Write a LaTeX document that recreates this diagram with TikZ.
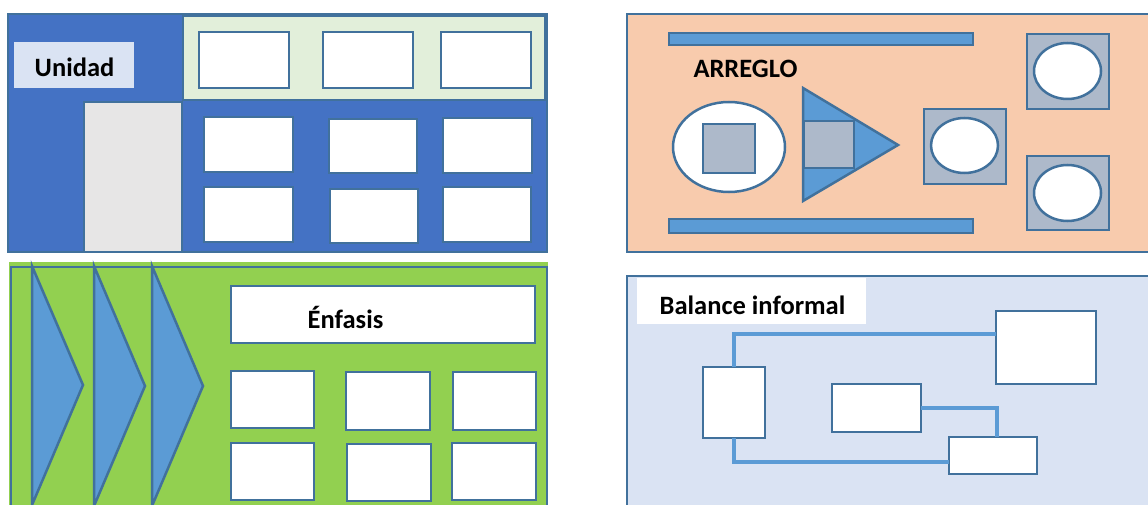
\documentclass[tikz,border=0pt]{standalone}
\usepackage{fontspec}
\setmainfont{Carlito}
\usetikzlibrary{fit,shapes.geometric}
\definecolor{bord}{HTML}{41719C}
\definecolor{cblue}{HTML}{4472C4}
\definecolor{lgreen}{HTML}{E2EFDA}
\definecolor{lgray}{HTML}{E7E6E6}
\definecolor{labblue}{HTML}{DAE3F3}
\definecolor{peach}{HTML}{F8CBAD}
\definecolor{midblue}{HTML}{5B9BD5}
\definecolor{sqgray}{HTML}{ADB9CA}
\definecolor{cgreen}{HTML}{92D050}
\definecolor{pblue}{HTML}{DAE3F3}
\tikzset{
  box/.style={draw=bord, line width=2.5pt, inner sep=0pt, outer sep=0pt, fit={#1}},
  plain/.style={inner sep=0pt, outer sep=0pt, fit={#1}},
  oval/.style={ellipse, draw=bord, line width=2.5pt, fill=white, inner sep=0pt, outer sep=0pt},
  shp/.style={draw=bord, line width=2.5pt, line join=miter},
  txt/.style={font=\bfseries\fontsize{26.5}{30}\selectfont, inner sep=0pt, anchor=base},
  conn/.style={draw=midblue, line width=4pt}
}
\begin{document}
\begin{tikzpicture}[x=1pt,y=-1pt]
\useasboundingbox (0,0) rectangle (1148,505);
\clip (0,0) rectangle (1148,505);
% ---------- Panel 1: Unidad ----------
\node[box={(8,14)(547,252)}, fill=cblue] (p1) {};
\node[plain={(14,42)(134,88)}, fill=labblue] (p1l) {};
\node[txt] (p1t) at (74.5,77) {Unidad};
\node[box={(183,16)(545,100)}, fill=lgreen] (p1g) {};
\node[box={(84,102)(182,252)}, fill=lgray] (p1s) {};
\node[box={(199,32)(289,88)}, fill=white] (u1) {};
\node[box={(323,32)(413,88)}, fill=white] (u2) {};
\node[box={(441,32)(531,88)}, fill=white] (u3) {};
\node[box={(204,117)(293,172)}, fill=white] (u4) {};
\node[box={(329,119)(417,173)}, fill=white] (u5) {};
\node[box={(443,118)(532,173)}, fill=white] (u6) {};
\node[box={(204,187)(293,242)}, fill=white] (u7) {};
\node[box={(330,189)(418,243)}, fill=white] (u8) {};
\node[box={(443,187)(531,242)}, fill=white] (u9) {};
% ---------- Panel 2: Arreglo ----------
\node[box={(627,14)(1165,252)}, fill=peach] (p2) {};
\node[box={(669,33)(973,45)}, fill=midblue] (bar1) {};
\node[box={(669,219)(973,233)}, fill=midblue] (bar2) {};
\node[txt] (p2t) at (745.5,78) {ARREGLO};
\node[oval, minimum width=112pt, minimum height=90pt] (e1) at (729,147) {};
\node[box={(703,124)(755,173)}, fill=sqgray] (s1) {};
\draw[shp, fill=midblue] (803,88) -- (898,145) -- (803,201) -- cycle;
\node[box={(804,121)(854,168)}, fill=sqgray] (s2) {};
\node[box={(924,109)(1006,184)}, fill=sqgray] (s3) {};
\node[oval, minimum width=67pt, minimum height=55pt] (e3) at (964.5,145.5) {};
\node[box={(1027,34)(1109,109)}, fill=sqgray] (s4) {};
\node[oval, minimum width=67pt, minimum height=56pt] (e4) at (1067.5,71) {};
\node[box={(1027,156)(1109,230)}, fill=sqgray] (s5) {};
\node[oval, minimum width=67pt, minimum height=56pt] (e5) at (1067.5,193) {};
% ---------- Panel 3: Enfasis ----------
\node[plain={(9,262)(548,520)}, fill=cgreen] (p3f) {};
\node[box={(11,267)(547,525)}] (p3) {};
\draw[shp, fill=midblue] (32,266) -- (83,385) -- (32,505) -- cycle;
\draw[shp, fill=midblue] (94,266) -- (145,386) -- (94,506) -- cycle;
\draw[shp, fill=midblue] (152,266) -- (203,386) -- (152,506) -- cycle;
\node[box={(231,286)(535,343)}, fill=white] (em) {};
\node[txt] (p3t) at (345.5,328) {Énfasis};
\node[box={(231,371)(314,428)}, fill=white] (v1) {};
\node[box={(346,372)(430,430)}, fill=white] (v2) {};
\node[box={(453,372)(536,430)}, fill=white] (v3) {};
\node[box={(231,443)(314,500)}, fill=white] (v4) {};
\node[box={(347,444)(431,501)}, fill=white] (v5) {};
\node[box={(452,443)(536,500)}, fill=white] (v6) {};
% ---------- Panel 4: Balance informal ----------
\node[box={(627,276)(1165,525)}, fill=pblue] (p4) {};
\node[plain={(637,278)(866,324)}, fill=white] (p4l) {};
\node[txt] (p4t) at (752.5,314) {Balance informal};
\node[box={(703,367)(765,438)}, fill=white] (A) {};
\node[box={(996,311)(1096,384)}, fill=white] (B) {};
\node[box={(832,384)(921,432)}, fill=white] (C) {};
\node[box={(949,437)(1037,474)}, fill=white] (D) {};
\coordinate (b1) at (996,334);
\coordinate (d1) at (949,462);
\coordinate (d2) at (997,437);
\draw[conn] (A.north) |- (b1);
\draw[conn] (A.south) |- (d1);
\draw[conn] (C.east) -| (d2);
\end{tikzpicture}
\end{document}
